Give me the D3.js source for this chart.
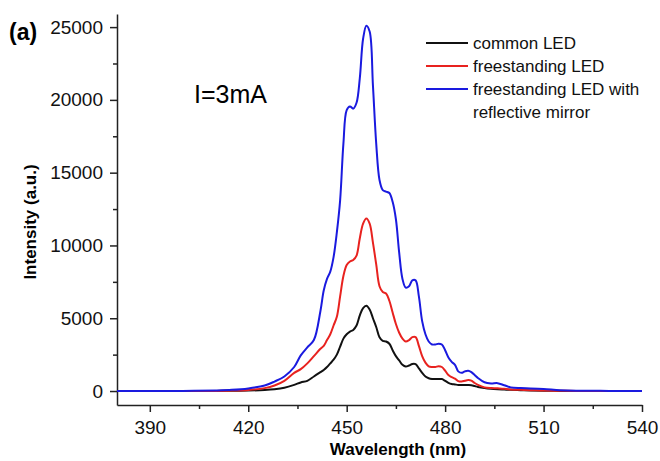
<!DOCTYPE html>
<html lang="en">
<head>
<meta charset="utf-8">
<script src="https://d3js.org/d3.v7.min.js"></script>
<style>
  *{margin:0;padding:0}
  body{background:#fff;}
  svg{font-family:"Liberation Sans", Arial, sans-serif;}
  .axis path,.axis line{stroke:#222;stroke-width:1.5;}
  .axis text{font-size:19px;fill:#111;}
</style>
</head>
<body>
<script>
// wavelength (nm) sample points shared by all three spectra
const wavelengths = [380,390,400,410,415,420,425,428,431,434,436,438,440,442,443,444,445,446,447,448,449,450,
  451,452,453,454,455,456,457,458,459,460,461,462,463,464,465,466,467,468,469,470,471,472,473,474,475,476,477,
  478,479,480,481,482,483,484,485,486,487,488,489,490,492,494,496,498,500,503,506,510,515,520,530,540];

const commonLED = [0,0,0,5,15,30,70,120,220,420,590,700,1000,1300,1450,1650,1900,2150,2500,3050,3600,3900,
  4080,4200,4500,5200,5700,5850,5600,5000,4400,3700,3450,3400,3250,2800,2400,2100,1800,1680,1750,1860,1850,
  1550,1250,1000,880,830,820,830,820,700,560,480,450,420,410,410,410,400,340,280,200,150,120,100,80,60,40,20,10,5,0,0];

const freestandingLED = [0,0,0,10,30,70,200,380,700,1250,1500,1900,2400,2900,3100,3500,3900,4500,5100,6500,7900,8650,
  8900,9000,9300,10500,11500,11850,11500,10200,8700,7200,6800,6700,6200,5400,4600,4000,3600,3400,3500,3700,3700,
  3100,2400,1950,1700,1650,1650,1700,1650,1400,1100,950,850,680,650,700,760,720,550,420,250,200,190,150,110,80,60,30,15,5,0,0];

const mirrorLED = [0,0,10,40,80,180,380,650,1000,1650,2450,3000,3500,5500,6900,7700,8200,9200,10900,13100,17000,19300,
  19550,19400,19800,21500,24200,25100,24700,21000,17000,14500,13800,13700,13600,13000,11800,9500,7700,7100,7200,7600,7600,
  6500,4800,3900,3400,3200,3200,3250,3200,2800,2300,2000,1800,1350,1250,1350,1400,1300,1100,900,600,520,540,400,250,200,180,140,60,20,10,10];

const seriesNames = ['common LED','freestanding LED','freestanding LED with|reflective mirror'];
const seriesColors = ['#111111','#e8221f','#1a1adf'];
const seriesData = [commonLED, freestandingLED, mirrorLED];

const xTicks = [390,420,450,480,510,540];
const yTicks = [0,5000,10000,15000,20000,25000];

const W = 660, H = 461;
const svg = d3.select('body').append('svg').attr('width',W).attr('height',H);

const x = d3.scaleLinear().domain([380,540]).range([117,642]);
const y = d3.scaleLinear().domain([-960,25900]).range([405,14]);

// minor ticks
svg.append('g').attr('class','axis').attr('transform','translate(0,405)')
  .call(d3.axisBottom(x).tickValues(d3.range(405,540,30)).tickSize(4).tickFormat(''))
  .select('.domain').remove();
svg.append('g').attr('class','axis').attr('transform','translate(117,0)')
  .call(d3.axisLeft(y).tickValues(d3.range(2500,25000,5000)).tickSize(4).tickFormat(''))
  .select('.domain').remove();

svg.append('g').attr('class','axis').attr('transform','translate(0,405)')
  .call(d3.axisBottom(x).tickValues(xTicks).tickSize(7).tickSizeOuter(0).tickPadding(9).tickFormat(d3.format('d')));
svg.append('g').attr('class','axis').attr('transform','translate(117,0)')
  .call(d3.axisLeft(y).tickValues(yTicks).tickSize(7).tickSizeOuter(0).tickPadding(7).tickFormat(d3.format('d')));

const line = d3.line().x((d,i)=>x(wavelengths[i])).y(d=>y(d)).curve(d3.curveCatmullRom.alpha(0.5));

seriesData.forEach((s,k)=>{
  svg.append('path').datum(s)
    .attr('fill','none')
    .attr('stroke',seriesColors[k])
    .attr('stroke-width',2)
    .attr('stroke-linejoin','round')
    .attr('d',line);
});

// axis titles
svg.append('text').attr('x',398).attr('y',455).attr('text-anchor','middle')
  .attr('font-size',17).attr('font-weight','bold').text('Wavelength (nm)');
svg.append('text').attr('transform','translate(36,222) rotate(-90)').attr('text-anchor','middle')
  .attr('font-size',17).attr('font-weight','bold').text('Intensity (a.u.)');

svg.append('text').attr('x',9).attr('y',40).attr('font-size',23).attr('font-weight','bold').text('(a)');
svg.append('text').attr('x',194).attr('y',103).attr('font-size',25).text('I=3mA');

// legend
const lg = svg.append('g');
seriesNames.forEach((n,k)=>{
  const cy = 43 + k*23;
  lg.append('line').attr('x1',426).attr('x2',468).attr('y1',cy).attr('y2',cy)
    .attr('stroke',seriesColors[k]).attr('stroke-width',2);
  n.split('|').forEach((t,j)=>{
    lg.append('text').attr('x',473).attr('y',cy+6+j*23).attr('font-size',17).attr('fill','#111').text(t);
  });
});
</script>
</body>
</html>
